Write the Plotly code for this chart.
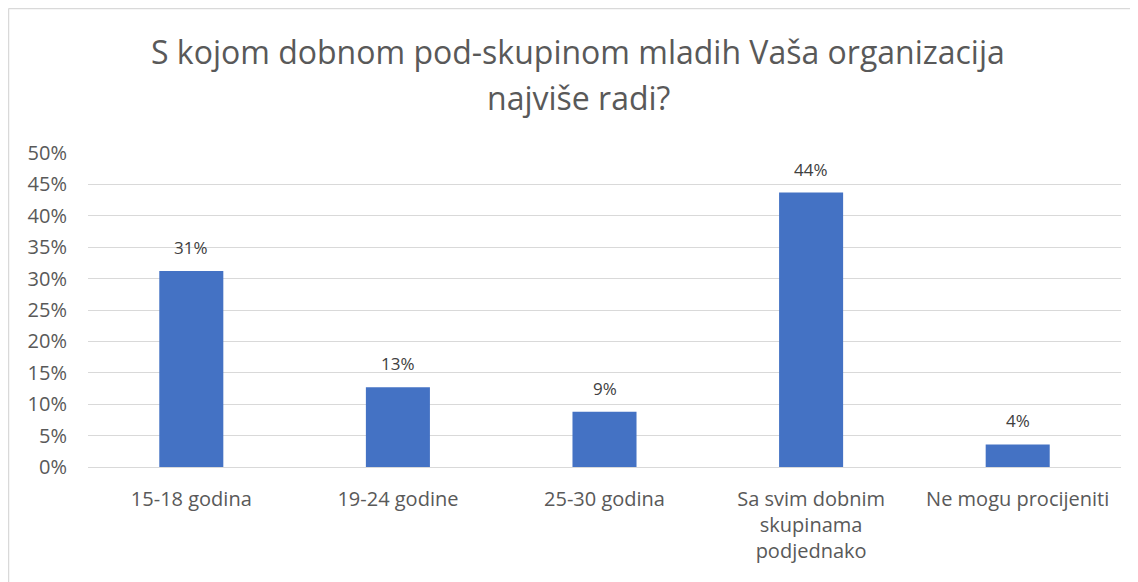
import plotly.graph_objects as go

# Survey answers: age sub-group the organisation works with most
categories = ["15-18 godina", "19-24 godine", "25-30 godina",
              "Sa svim dobnim<br>skupinama<br>podjednako", "Ne mogu procijeniti"]
shares = [0.312, 0.127, 0.088, 0.437, 0.036]
y_ticks = [i / 100 for i in range(0, 55, 5)]
title_lines = ["S kojom dobnom pod-skupinom mladih Vaša organizacija", "najviše radi?"]

GREY_TXT = "#595959"
GRID = "#d9d9d9"
FONT = "Open Sans, Liberation Sans, sans-serif"

W, H = 1130, 574
L, R, T, B = 80, 17, 145, 115
pw, ph = W - L - R, H - T - B

fig = go.Figure(go.Bar(
    x=categories, y=shares,
    marker=dict(color="#4472c4", line=dict(width=0)),
    hovertemplate="%{x}: %{y:.0%}<extra></extra>",
))

# value labels sitting a bit above each bar, like the original
for cat, val in zip(categories, shares):
    fig.add_annotation(x=cat, y=val, text=f"{val:.0%}", showarrow=False,
                       yanchor="bottom", yshift=10,
                       font=dict(size=17, color="#404040", family=FONT))

# title, two lines with the wide spacing of the original, centred on the chart box
for txt, ypx in zip(title_lines, [44, 90]):
    fig.add_annotation(xref="paper", yref="paper", x=(W / 2 + 5 - L) / pw,
                       xanchor="center", y=1 + (T - ypx) / ph, yanchor="middle",
                       text=txt, showarrow=False,
                       font=dict(size=32, color=GREY_TXT, family=FONT))

fig.update_layout(
    width=W, height=H,
    margin=dict(l=L, r=R, t=T, b=B),
    paper_bgcolor="white", plot_bgcolor="white",
    bargap=0.69,
    showlegend=False,
    font=dict(family=FONT, color=GREY_TXT),
)
fig.update_xaxes(
    showgrid=False, showline=True, linecolor=GRID, linewidth=1,
    ticks="", tickfont=dict(size=20, color=GREY_TXT),
    ticklabelstandoff=14,
)
fig.update_yaxes(
    range=[0, 0.5], tickvals=y_ticks, tickformat=".0%",
    showgrid=True, gridcolor=GRID, gridwidth=1, zeroline=False,
    showline=False, ticks="", tickfont=dict(size=20, color=GREY_TXT),
    ticklabelstandoff=20,
)
# outer chart frame (only top and left edges are visible in the crop)
x_left = (0.5 - L) / pw
y_top = 1 + (T - 0.5) / ph
fig.add_shape(type="line", xref="paper", yref="paper",
              x0=x_left, x1=1 + R / pw, y0=y_top, y1=y_top,
              line=dict(color=GRID, width=1.5))
fig.add_shape(type="line", xref="paper", yref="paper",
              x0=x_left, x1=x_left, y0=y_top, y1=-B / ph,
              line=dict(color=GRID, width=1.5))

fig.write_html("out.html")
